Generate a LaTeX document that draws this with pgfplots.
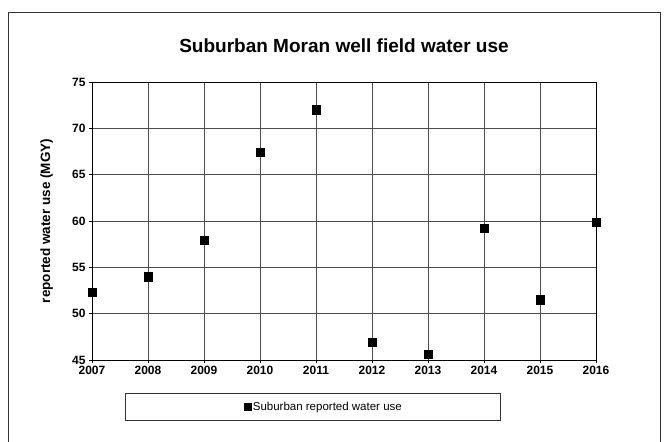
\documentclass[border=0pt]{standalone}
\usepackage{pgfplots}
\pgfplotsset{compat=1.18}
\usepackage{fontspec}
\setmainfont{Liberation Sans}

\begin{document}
\begin{tikzpicture}
\useasboundingbox (0,0) rectangle (668pt,441pt);
% outer chart frame
\draw[line width=0.8pt, black!80] (8pt,-2pt) -- (8pt,429pt) -- (660pt,429pt) -- (660pt,-2pt);
% legend frame
\draw[line width=0.6pt, black!80] (125pt,21pt) rectangle (500pt,48pt);
\begin{axis}[
    at={(92pt,81pt)}, anchor=south west,
    scale only axis,
    width=504pt, height=278pt,
    xmin=2007, xmax=2016,
    ymin=45, ymax=75,
    xtick={2007,...,2016},
    ytick={45,50,...,75},
    grid=major,
    major grid style={black!70, line width=0.5pt},
    axis line style={black, line width=0.8pt},
    tick style={black, line width=0.6pt},
    tick align=outside,
    major tick length=3pt,
    xtick pos=bottom, ytick pos=left,
    x tick label style={/pgf/number format/1000 sep={}},
    ticklabel style={font=\bfseries\fontsize{12}{13}\selectfont},
    /pgf/number format/assume math mode=true,
    title={Suburban Moran well field water use},
    title style={at={(axis description cs:0.5,1)}, anchor=center, yshift=30pt,
        font=\bfseries\fontsize{19}{21}\selectfont},
    ylabel={reported water use (MGY)},
    ylabel style={at={(axis description cs:-0.09,0.5)}, anchor=center,
        font=\bfseries\fontsize{13.5}{15}\selectfont},
    legend style={at={(0.46,-0.169)}, anchor=center, draw=none, fill=none,
        font=\fontsize{11.5}{13}\selectfont, inner sep=1pt},
    legend image code/.code={\draw[mark size=3.5pt] plot coordinates {(0.2cm,0cm)};},
    clip=false,
]
\addplot[only marks, mark=square*, mark size=4.2pt, black] coordinates {
    (2007,52.3) (2008,54.0) (2009,57.9) (2010,67.4) (2011,72.0)
    (2012,46.9) (2013,45.6) (2014,59.2) (2015,51.5) (2016,59.9)
};
\addlegendentry{Suburban reported water use}
\end{axis}
\end{tikzpicture}
\end{document}
